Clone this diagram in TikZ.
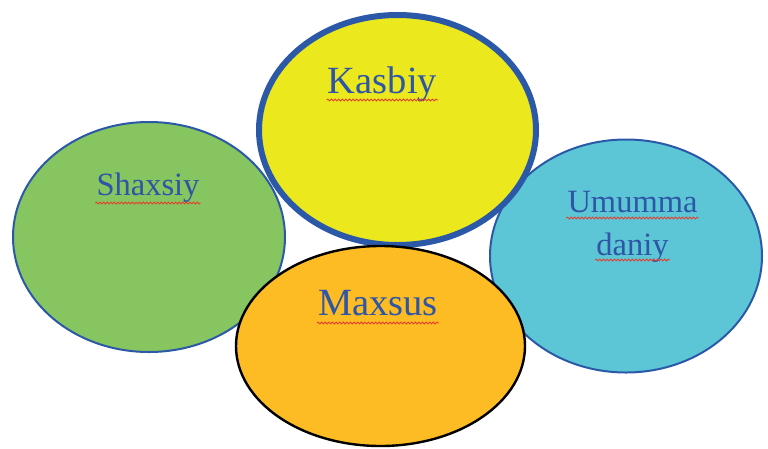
\documentclass[tikz,border=0pt]{standalone}
\usepackage{fontspec}
\setmainfont{Liberation Serif}
\usetikzlibrary{shapes.geometric,decorations.pathmorphing}
\definecolor{gfill}{HTML}{86C55F}
\definecolor{yfill}{HTML}{EBE81E}
\definecolor{cfill}{HTML}{5CC6D6}
\definecolor{ofill}{HTML}{FDBC24}
\definecolor{bord}{HTML}{2B59A8}
\definecolor{txt}{HTML}{2E55A6}
\definecolor{wavy}{HTML}{E2402E}
\tikzset{
  blob/.style={ellipse, inner sep=0pt, outer sep=0pt},
  lbl/.style={inner sep=0pt, anchor=base, text=txt},
  big/.style={font=\fontsize{38.5}{44}\selectfont},
  mid/.style={font=\fontsize{32.5}{43}\selectfont},
  squiggle/.style={draw=wavy, line width=0.9pt, decorate,
    decoration={snake, amplitude=0.9pt, segment length=3.6pt}}
}
\begin{document}
\begin{tikzpicture}[x=1pt,y=-1pt]
\useasboundingbox (0,0) rectangle (768,448);
% ellipses
\node[blob, fill=gfill, draw=bord, line width=2pt, minimum width=272pt, minimum height=230pt] (green) at (149,237) {};
\node[blob, fill=cfill, draw=bord, line width=2pt, minimum width=272pt, minimum height=233pt] (cyan) at (626,256) {};
\node[blob, fill=yfill, draw=bord, line width=6pt, minimum width=277pt, minimum height=230pt] (yellow) at (397.5,130) {};
\node[blob, fill=ofill, draw=black, line width=2.4pt, minimum width=289pt, minimum height=200pt] (orange) at (380.5,346) {};
% labels
\node[lbl, big] (kasbiy) at (382.5,93) {Kasbiy};
\node[lbl, mid] (shaxsiy) at (148,195) {Shaxsiy};
\node[lbl, mid] (umumma) at (632.5,212) {Umumma};
\node[lbl, mid] (daniy) at (632.5,255) {daniy};
\node[lbl, big] (maxsus) at (378,315) {Maxsus};
% spell-check underlines
\foreach \n/\d in {kasbiy/7, shaxsiy/8, umumma/6, daniy/5, maxsus/8}{
  \coordinate (\n-a) at ([xshift=-1pt,yshift=-\d pt]\n.base west);
  \coordinate (\n-b) at ([xshift=1pt,yshift=-\d pt]\n.base east);
  \path[squiggle] (\n-a) -- (\n-b);
}
\end{tikzpicture}
\end{document}
